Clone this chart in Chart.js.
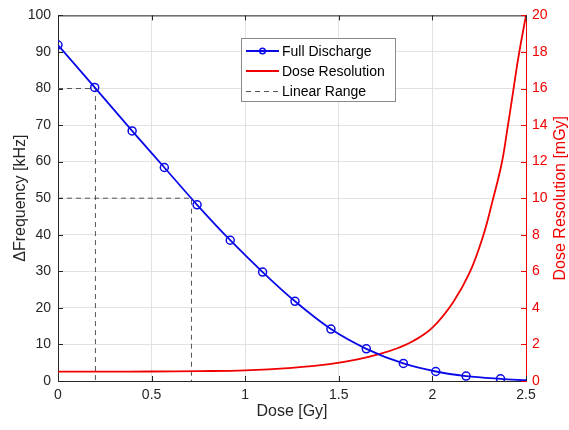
<!DOCTYPE html>
<html><head><meta charset="utf-8">
<script src="https://cdn.jsdelivr.net/npm/chart.js@4/dist/chart.umd.min.js"></script>
<style>html,body{margin:0;padding:0;background:#fff}#wrap{width:569px;height:430px}</style>
</head><body><div id="wrap"><canvas id="c" width="569" height="430"></canvas></div>
<script>
// Full Discharge (left axis, kHz); last point has no marker
const fullDose = [0, 0.196, 0.396, 0.568, 0.743, 0.920, 1.093, 1.266, 1.458, 1.647, 1.845, 2.018, 2.180, 2.364, 2.5];
const fullFreq = [91.9, 80.3, 68.4, 58.4, 48.2, 38.5, 29.8, 21.8, 14.2, 8.8, 4.8, 2.6, 1.35, 0.6, 0.2];
const fullMarker = [1,1,1,1,1,1,1,1,1,1,1,1,1,1,0];
// Dose Resolution (right axis, mGy)
const resDose = [0, 0.25, 0.5, 0.75, 1.0, 1.25, 1.45, 1.6, 1.72, 1.82, 1.9, 2.0, 2.11, 2.2, 2.27, 2.32, 2.37, 2.40, 2.43, 2.46, 2.5];
const resValue = [0.51, 0.51, 0.52, 0.54, 0.58, 0.72, 0.92, 1.18, 1.48, 1.82, 2.2, 2.92, 4.3, 5.95, 7.9, 9.8, 11.9, 13.75, 15.75, 17.75, 20.0];
// Linear range guides
const linA_x = [0, 0.2, 0.2], linA_y = [80, 80, 0];
const linB_x = [0, 0.713, 0.713], linB_y = [50, 50, 0];
// Ticks
const xTicks = [0, 0.5, 1, 1.5, 2, 2.5];
const yTicks = [0,10,20,30,40,50,60,70,80,90,100];
const y2Ticks = [0,2,4,6,8,10,12,14,16,18,20];
const legendLabels = ['Full Discharge', 'Dose Resolution', 'Linear Range'];
const y2Title = 'Dose Resolution [mGy]';

const BLUE = '#0a0ae8', RED = '#f00000', DARK = '#262626', GRID = '#e2e2e2', DASH = '#555555';
const pts = (xs, ys) => xs.map((x, i) => ({x, y: ys[i]}));
const FONT = "'Liberation Sans', Arial, sans-serif";
Chart.defaults.font.family = FONT;

const extras = {
  id: 'extras',
  afterDraw(chart) {
    const ctx = chart.ctx, a = chart.chartArea;
    const sx = chart.scales.x, sy = chart.scales.y, sy2 = chart.scales.y2;
    ctx.save();
    // top border
    ctx.strokeStyle = DARK; ctx.lineWidth = 1;
    ctx.beginPath(); ctx.moveTo(a.left, a.top + 0.5); ctx.lineTo(a.right, a.top + 0.5); ctx.stroke();
    // inward ticks
    const L = 5;
    ctx.beginPath();
    xTicks.forEach(v => { const p = Math.round(sx.getPixelForValue(v)) + 0.5;
      ctx.moveTo(p, a.bottom); ctx.lineTo(p, a.bottom - L);
      ctx.moveTo(p, a.top); ctx.lineTo(p, a.top + L); });
    yTicks.forEach(v => { const p = Math.round(sy.getPixelForValue(v)) + 0.5;
      ctx.moveTo(a.left, p); ctx.lineTo(a.left + L, p); });
    ctx.stroke();
    ctx.strokeStyle = RED; ctx.beginPath();
    y2Ticks.forEach(v => { const p = Math.round(sy2.getPixelForValue(v)) + 0.5;
      ctx.moveTo(a.right, p); ctx.lineTo(a.right - L, p); });
    ctx.stroke();
    // right axis title, reading bottom-to-top
    ctx.save();
    ctx.translate(561, (a.top + a.bottom) / 2);
    ctx.rotate(-Math.PI / 2);
    ctx.fillStyle = RED; ctx.font = '16px ' + FONT; ctx.textAlign = 'center'; ctx.textBaseline = 'middle';
    ctx.fillText(y2Title, 0, 0);
    ctx.restore();
    // legend
    const bx = 241, by = 38, bw = 154, bh = 63;
    ctx.fillStyle = '#fff'; ctx.fillRect(bx, by, bw, bh);
    ctx.strokeStyle = '#8a8a8a'; ctx.lineWidth = 1; ctx.strokeRect(bx + 0.5, by + 0.5, bw, bh);
    const rows = [51, 71, 91];
    const x0 = 246, x1 = 279;
    ctx.strokeStyle = BLUE; ctx.lineWidth = 1.8; ctx.setLineDash([]);
    ctx.beginPath(); ctx.moveTo(x0, rows[0]); ctx.lineTo(x1, rows[0]); ctx.stroke();
    ctx.lineWidth = 1.5; ctx.beginPath(); ctx.arc((x0 + x1) / 2, rows[0], 2.8, 0, Math.PI * 2); ctx.stroke();
    ctx.strokeStyle = RED; ctx.lineWidth = 1.8;
    ctx.beginPath(); ctx.moveTo(x0, rows[1]); ctx.lineTo(x1, rows[1]); ctx.stroke();
    ctx.strokeStyle = DASH; ctx.lineWidth = 1; ctx.setLineDash([5, 4]);
    ctx.beginPath(); ctx.moveTo(x0, rows[2] + 0.5); ctx.lineTo(x1, rows[2] + 0.5); ctx.stroke();
    ctx.setLineDash([]);
    ctx.fillStyle = '#000'; ctx.font = '14px ' + FONT; ctx.textBaseline = 'middle'; ctx.textAlign = 'left';
    legendLabels.forEach((t, i) => ctx.fillText(t, 282, rows[i] + 1));
    ctx.restore();
  }
};

new Chart(document.getElementById('c'), {
  type: 'scatter',
  data: {
    datasets: [
      { label: legendLabels[0], data: pts(fullDose, fullFreq), yAxisID: 'y', showLine: true,
        borderColor: BLUE, borderWidth: 1.8, cubicInterpolationMode: 'monotone',
        pointRadius: fullMarker.map(m => m ? 4 : 0), pointBorderColor: BLUE, pointBorderWidth: 1.5,
        pointBackgroundColor: 'rgba(0,0,0,0)', pointHoverRadius: 0 },
      { label: legendLabels[1], data: pts(resDose, resValue), yAxisID: 'y2', showLine: true,
        borderColor: RED, borderWidth: 1.8, tension: 0.4, pointRadius: 0 },
      { label: legendLabels[2], data: pts(linA_x, linA_y), yAxisID: 'y', showLine: true,
        borderColor: DASH, borderWidth: 1, borderDash: [5, 4], pointRadius: 0 },
      { label: legendLabels[2] + ' ', data: pts(linB_x, linB_y), yAxisID: 'y', showLine: true,
        borderColor: DASH, borderWidth: 1, borderDash: [5, 4], pointRadius: 0 }
    ]
  },
  options: {
    responsive: false, animation: false, devicePixelRatio: 1,
    layout: { padding: { top: 11, left: 0, right: 0, bottom: 0 } },
    plugins: { legend: { display: false }, tooltip: { enabled: false } },
    scales: {
      x: { type: 'linear', min: 0, max: 2.5,
        afterBuildTicks: s => { s.ticks = xTicks.map(v => ({value: v})); },
        ticks: { color: DARK, font: { size: 14 }, padding: 6, maxRotation: 0, callback: v => String(Number(v)) },
        grid: { color: GRID, drawTicks: false }, border: { color: DARK },
        title: { display: true, text: 'Dose [Gy]', color: DARK, font: { size: 16 }, padding: { top: 0, bottom: 9 } },
        afterFit: s => { s.height = 49; } },
      y: { type: 'linear', position: 'left', min: 0, max: 100,
        afterBuildTicks: s => { s.ticks = yTicks.map(v => ({value: v})); },
        ticks: { color: DARK, font: { size: 14 }, padding: 7 },
        grid: { color: GRID, drawTicks: false }, border: { color: DARK },
        title: { display: true, text: 'ΔFrequency [kHz]', color: DARK, font: { size: 16 }, padding: { top: 11, bottom: 0 } },
        afterFit: s => { s.width = 58; } },
      y2: { type: 'linear', position: 'right', min: 0, max: 20,
        afterBuildTicks: s => { s.ticks = y2Ticks.map(v => ({value: v})); },
        ticks: { color: RED, font: { size: 14 }, padding: 6 },
        grid: { drawOnChartArea: false, drawTicks: false }, border: { color: RED },
        title: { display: false },
        afterFit: s => { s.width = 43; } }
    }
  },
  plugins: [extras]
});
</script></body></html>
